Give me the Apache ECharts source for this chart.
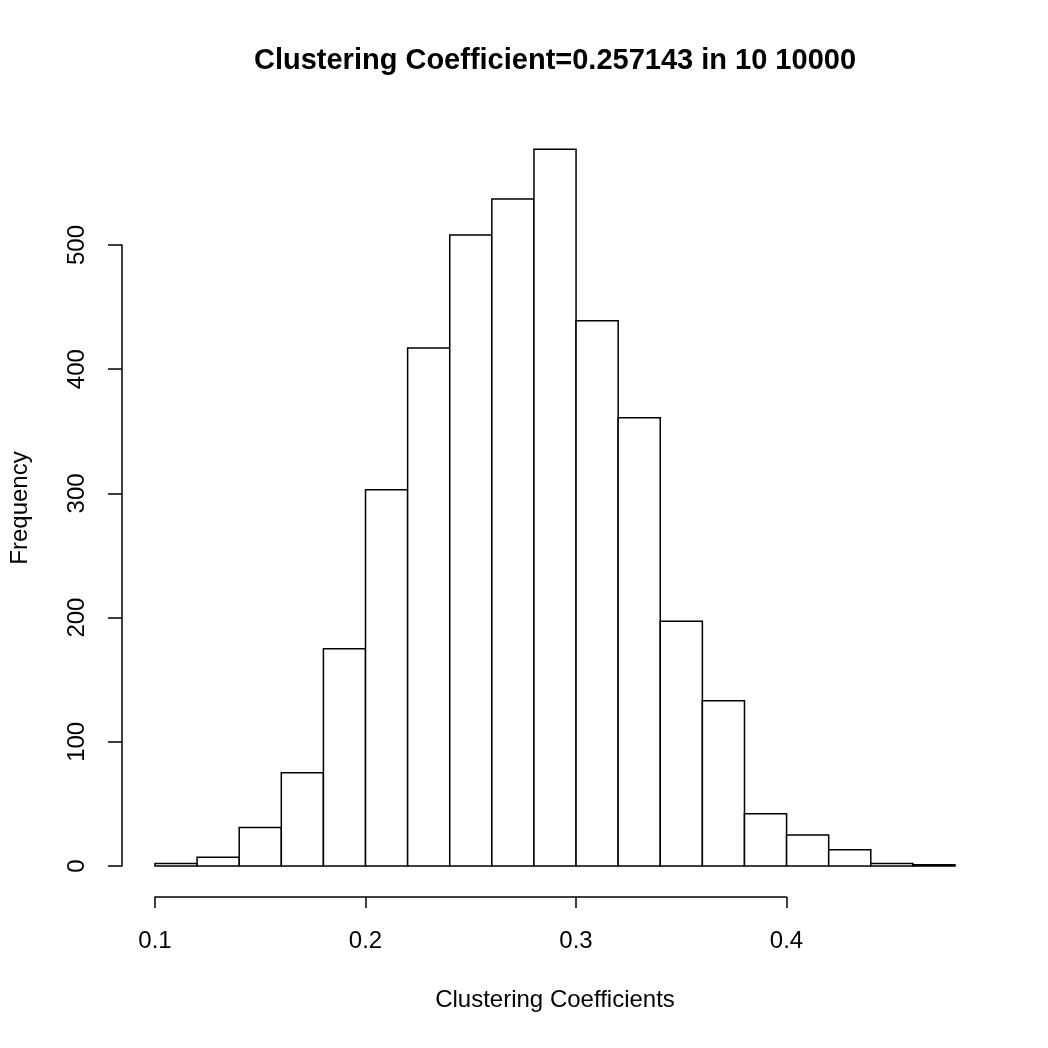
<!DOCTYPE html>
<html>
<head>
<meta charset="utf-8">
<script src="https://cdn.jsdelivr.net/npm/echarts@6/dist/echarts.min.js"></script>
<style>
  html, body { margin: 0; padding: 0; background: #fff; }
  #chart { width: 1048px; height: 1048px; }
</style>
</head>
<body>
<div id="chart"></div>
<script>
// histogram bins (left edges), width 0.02
var binStarts = [0.10, 0.12, 0.14, 0.16, 0.18, 0.20, 0.22, 0.24, 0.26, 0.28,
                 0.30, 0.32, 0.34, 0.36, 0.38, 0.40, 0.42, 0.44, 0.46]
var binWidth = 0.02
var counts = [2, 7, 31, 75, 175, 303, 417, 508, 537, 577,
              439, 361, 197, 133, 42, 25, 13, 2, 1]
var xTicks = [0.1, 0.2, 0.3, 0.4]
var yTicks = [0, 100, 200, 300, 400, 500]

var titleText = 'Clustering Coefficient=0.257143 in 10 10000'
var xName = 'Clustering Coefficients'
var yName = 'Frequency'

var font = '"Liberation Sans", Arial, sans-serif'
var lw = 1.5

var histData = binStarts.map(function (s, i) {
  return [s, s + binWidth, counts[i]]
})

var myChart = echarts.init(document.getElementById('chart'))
var option = {
  backgroundColor: '#ffffff',
  animation: false,
  grid: [
    // data area
    { left: 155, top: 120.8, width: 800, height: 745.2 },
    // x axis display (0.1 - 0.4 only)
    { left: 155, top: 866, width: 631.5, height: 31 },
    // y axis display (0 - 500 only)
    { left: 122, top: 245, width: 10, height: 621 }
  ],
  xAxis: [
    { gridIndex: 0, type: 'value', min: 0.1, max: 0.48, show: false },
    {
      gridIndex: 1, type: 'value', min: 0.1, max: 0.4, interval: 0.1,
      position: 'bottom',
      axisLine: { show: true, lineStyle: { color: '#000', width: lw } },
      axisTick: { show: true, length: 11, lineStyle: { color: '#000', width: lw } },
      axisLabel: {
        margin: 32, color: '#000', fontFamily: font, fontSize: 24,
        formatter: function (v) { return v.toFixed(1) }
      },
      splitLine: { show: false }
    },
    { gridIndex: 2, type: 'value', show: false }
  ],
  yAxis: [
    { gridIndex: 0, type: 'value', min: 0, max: 600, show: false },
    { gridIndex: 1, type: 'value', show: false },
    {
      gridIndex: 2, type: 'value', min: 0, max: 500, interval: 100,
      position: 'left',
      axisLine: { show: true, lineStyle: { color: '#000', width: lw } },
      axisTick: { show: true, length: 14, lineStyle: { color: '#000', width: lw } },
      axisLabel: {
        margin: 33, rotate: 90, color: '#000', fontFamily: font, fontSize: 24
      },
      splitLine: { show: false }
    }
  ],
  graphic: [
    {
      type: 'text', x: 555, y: 61,
      style: {
        text: titleText, x: 0, y: 0, textAlign: 'center', textVerticalAlign: 'middle',
        font: 'bold 29px ' + font, fill: '#000'
      }
    },
    {
      type: 'text', x: 555, y: 1000,
      style: {
        text: xName, x: 0, y: 0, textAlign: 'center', textVerticalAlign: 'middle',
        font: '24px ' + font, fill: '#000'
      }
    },
    {
      type: 'text', x: 20, y: 508, rotation: Math.PI / 2,
      style: {
        text: yName, x: 0, y: 0, textAlign: 'center', textVerticalAlign: 'middle',
        font: '24px ' + font, fill: '#000'
      }
    }
  ],
  series: [
    {
      type: 'custom',
      xAxisIndex: 0,
      yAxisIndex: 0,
      data: histData,
      renderItem: function (params, api) {
        var p0 = api.coord([api.value(0), api.value(2)])
        var p1 = api.coord([api.value(1), 0])
        return {
          type: 'rect',
          shape: { x: p0[0], y: p0[1], width: p1[0] - p0[0], height: p1[1] - p0[1] },
          style: { fill: '#fff', stroke: '#000', lineWidth: lw }
        }
      }
    }
  ]
}
myChart.setOption(option)
</script>
</body>
</html>
